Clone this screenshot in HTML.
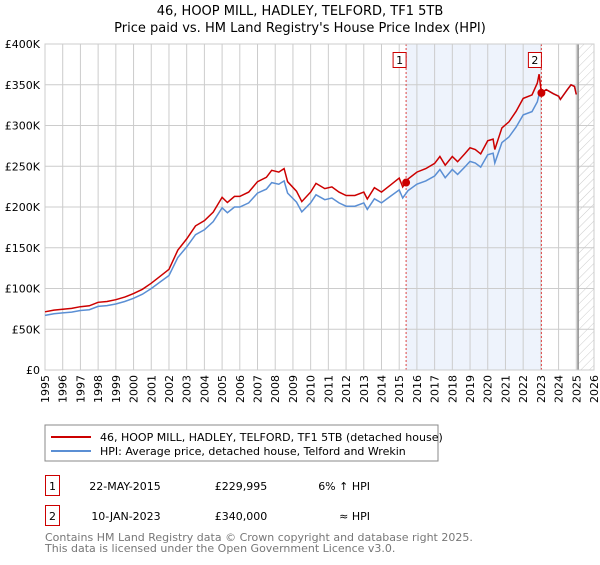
<!DOCTYPE html>
<html><head><meta charset="utf-8"><style>
body{margin:0;background:#fff;font-family:"Liberation Sans","DejaVu Sans",sans-serif;}
svg text{font-family:"DejaVu Sans","Liberation Sans",sans-serif;}
</style></head><body>
<svg id="c" width="600" height="560" xmlns="http://www.w3.org/2000/svg">
<defs><pattern id="hatch" width="6" height="6" patternUnits="userSpaceOnUse" patternTransform="rotate(45)"><line x1="0" y1="0" x2="0" y2="6" stroke="#ccc" stroke-width="1"/></pattern></defs>
<text x="300" y="15" text-anchor="middle" font-size="13">46, HOOP MILL, HADLEY, TELFORD, TF1 5TB</text>
<text x="300" y="32" text-anchor="middle" font-size="13">Price paid vs. HM Land Registry's House Price Index (HPI)</text>
<g id="plot"></g>
<rect x="45" y="425" width="393" height="36" fill="#fff" stroke="#888"/>
<line x1="51" y1="437" x2="91" y2="437" stroke="#cc0000" stroke-width="2"/>
<text x="100" y="441" font-size="11">46, HOOP MILL, HADLEY, TELFORD, TF1 5TB (detached house)</text>
<line x1="51" y1="451" x2="91" y2="451" stroke="#5b8fd4" stroke-width="2"/>
<text x="100" y="455" font-size="11">HPI: Average price, detached house, Telford and Wrekin</text>
<rect x="45.5" y="475.5" width="14" height="20" fill="none" stroke="#cc0000"/>
<text x="52.5" y="490" font-size="11" text-anchor="middle">1</text>
<text x="125" y="490" font-size="11" text-anchor="middle">22-MAY-2015</text>
<text x="241" y="490" font-size="11" text-anchor="middle">£229,995</text>
<text x="370" y="490" font-size="11" text-anchor="end">6% ↑ HPI</text>
<rect x="45.5" y="505.5" width="14" height="20" fill="none" stroke="#cc0000"/>
<text x="52.5" y="520" font-size="11" text-anchor="middle">2</text>
<text x="126" y="520" font-size="11" text-anchor="middle">10-JAN-2023</text>
<text x="241" y="520" font-size="11" text-anchor="middle">£340,000</text>
<text x="370" y="520" font-size="11" text-anchor="end">≈ HPI</text>
<text x="45" y="541" font-size="11" fill="#777">Contains HM Land Registry data © Crown copyright and database right 2025.</text>
<text x="45" y="552" font-size="11" fill="#777">This data is licensed under the Open Government Licence v3.0.</text>
</svg>
<script>
const hpiYears=[1995.0,1995.5,1996.0,1996.5,1997.0,1997.5,1998.0,1998.5,1999.0,1999.5,2000.0,2000.5,2001.0,2001.5,2002.0,2002.5,2003.0,2003.5,2004.0,2004.5,2005.0,2005.3,2005.7,2006.0,2006.5,2007.0,2007.5,2007.8,2008.2,2008.5,2008.7,2009.2,2009.5,2010.0,2010.3,2010.8,2011.2,2011.6,2012.0,2012.5,2013.0,2013.2,2013.6,2014.0,2014.5,2015.0,2015.2,2015.5,2016.0,2016.5,2017.0,2017.3,2017.6,2018.0,2018.3,2018.7,2019.0,2019.3,2019.6,2020.0,2020.3,2020.4,2020.8,2021.2,2021.6,2022.0,2022.5,2022.8,2022.9,2023.03,2023.3,2023.7,2024.0,2024.1,2024.5,2024.7,2024.9,2025.0];
const hpiValues=[67,69,70,71,73,74,78,79,81,84,88,93,100,108,116,138,151,166,172,182,199,193,200,200,205,217,222,230,228,232,217,206,194,205,215,209,211,205,201,201,205,197,210,205,213,221,211,220,228,232,238,246,236,246,240,249,256,254,249,264,266,254,279,286,298,313,317,329,338,340,344,339,336,332,344,350,348,338];
const priceValues=[71.4,73.5,74.6,75.6,77.7,78.8,83.1,84.1,86.3,89.5,93.7,99,106.5,115,123.5,147,160.8,176.8,183.2,193.8,211.9,205.5,213,213,218.3,231.1,236.4,245,242.8,247.1,231.1,219.4,206.6,218.3,229,222.6,224.7,218.3,214.1,214.1,218.3,209.8,223.7,218.3,226.8,235.4,224.7,234.3,242.8,247.1,253.5,262,251.3,262,255.6,265.2,272.6,270.5,265.2,281.2,283.3,270.5,297.1,304.6,317.4,333.3,337.6,352,363,340,344,339,336,332,344,350,348,338];
const saleYears=[2015.39,2023.03];
const saleValues=[229.995,340];
const yTicks=[0,50,100,150,200,250,300,350,400];
const yTickLabels=["£0","£50K","£100K","£150K","£200K","£250K","£300K","£350K","£400K"];
const xTicks=[1995,1996,1997,1998,1999,2000,2001,2002,2003,2004,2005,2006,2007,2008,2009,2010,2011,2012,2013,2014,2015,2016,2017,2018,2019,2020,2021,2022,2023,2024,2025,2026];
const dataEnd=2025.1;

const X0=45,X1=594,Y0=370,Y1=44;
const xs=y=>X0+(y-1995)/(2026-1995)*(X1-X0);
const ys=v=>Y0-v/400*(Y0-Y1);
const NS="http://www.w3.org/2000/svg";
const g=document.getElementById('plot');
function mk(t,a){const e=document.createElementNS(NS,t);for(const k in a)e.setAttribute(k,a[k]);g.appendChild(e);return e;}
let e;
e=mk('rect',{x:xs(saleYears[0]),y:Y1,width:xs(saleYears[1])-xs(saleYears[0]),height:Y0-Y1,fill:'#eef3fc'});


e=mk('rect',{x:xs(dataEnd),y:Y1,width:X1-xs(dataEnd),height:Y0-Y1,fill:'url(#hatch)'});


xTicks.forEach((t,i)=>{
 e=mk('line',{x1:xs(t),x2:xs(t),y1:Y1,y2:Y0,stroke:'#ccc'});
 
 
 e=mk('text',{x:0,y:0,'font-size':11,'text-anchor':'end',transform:`translate(${xs(t)+4},${Y0+5}) rotate(-90)`});
 e.textContent=t;
 
 
});
yTicks.forEach((t,i)=>{
 e=mk('line',{x1:X0,x2:X1,y1:ys(t),y2:ys(t),stroke:'#ccc'});
 
 
 e=mk('text',{x:40,y:ys(t)+4,'font-size':11,'text-anchor':'end'});
 e.textContent=yTickLabels[i];
 
 
});
e=mk('line',{x1:xs(dataEnd),x2:xs(dataEnd),y1:Y1,y2:Y0,stroke:'#888','stroke-width':1.5});


saleYears.forEach((s,i)=>{
 e=mk('line',{x1:xs(s),x2:xs(s),y1:Y1,y2:Y0,stroke:'#dd4444','stroke-dasharray':'2,2'});
 
 
 e=mk('rect',{x:xs(s)-13,y:52.5,width:13,height:15,fill:'#fff',stroke:'#cc0000'});
 
 
 e=mk('text',{x:xs(s)-6.5,y:64,'font-size':11,'text-anchor':'middle'});
 e.textContent=i+1;
 
 
});
e=mk('rect',{x:X0,y:Y1,width:X1-X0,height:Y0-Y1,fill:'none',stroke:'#ccc'});


const pts=v=>hpiYears.map((y,i)=>xs(y).toFixed(1)+','+ys(v[i]).toFixed(1)).join(' ');
e=mk('polyline',{points:pts(hpiValues),fill:'none',stroke:'#5b8fd4','stroke-width':1.5});


e=mk('polyline',{points:pts(priceValues),fill:'none',stroke:'#cc0000','stroke-width':1.5});


saleYears.forEach((s,i)=>{
 e=mk('circle',{cx:xs(s),cy:ys(saleValues[i]),r:4,fill:'#cc0000'});
 
 
});
</script>
</body></html>
